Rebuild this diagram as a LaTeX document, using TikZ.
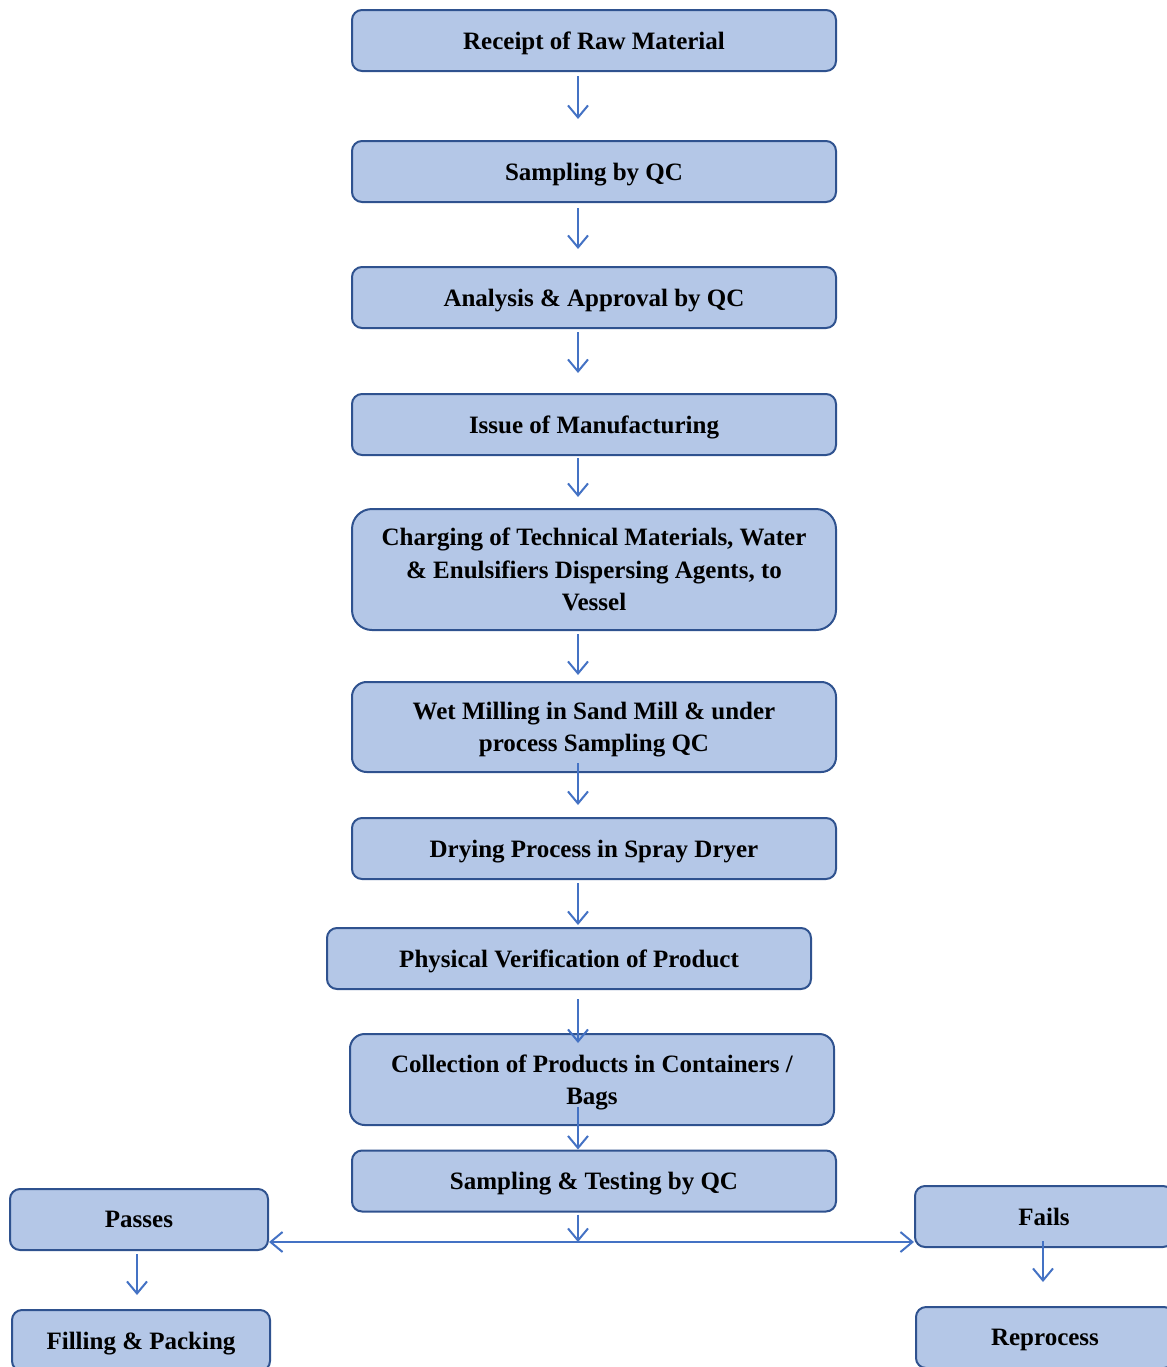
\documentclass[tikz,border=0pt]{standalone}
\usepackage{fontspec}
\setmainfont{Liberation Serif}
\usetikzlibrary{arrows.meta,calc}
\definecolor{boxfill}{HTML}{B4C7E7}
\definecolor{boxline}{HTML}{2F528F}
\definecolor{flowline}{HTML}{4472C4}

\begin{document}
\begin{tikzpicture}[x=0.75pt,y=-0.75pt,
  stepbox/.style={draw=boxline, fill=boxfill, line width=1.5pt, rounded corners=7.5pt,
    minimum width=363pt, minimum height=45.75pt, inner sep=0pt, align=center,
    text depth=0pt, font=\fontsize{18.75}{24.4}\selectfont\bfseries},
  resultbox/.style={stepbox, minimum width=193.5pt},
  flow/.style={draw=flowline, line width=1.5pt, -{Straight Barb[length=9pt,width=15pt]}}]
\useasboundingbox (0,0) rectangle (1167,1367);
% main line of steps
\node[stepbox] (receipt) at (594,40.5) {Receipt of Raw Material};
\node[stepbox] (sampling) at (594,171.5) {Sampling by QC};
\node[stepbox] (analysis) at (594,297.5) {Analysis \& Approval by QC};
\node[stepbox] (issue) at (594,424.5) {Issue of Manufacturing};
\node[stepbox, minimum height=90.75pt, rounded corners=15pt] (charging) at (594,569.5)
  {Charging of Technical Materials, Water\\\& Enulsifiers Dispersing Agents, to\\Vessel};
\node[stepbox, minimum height=67.5pt, rounded corners=11pt] (milling) at (594,727)
  {Wet Milling in Sand Mill \& under\\process Sampling QC};
\node[stepbox] (drying) at (594,848.5) {Drying Process in Spray Dryer};
\node[stepbox] (physical) at (569,958.5) {Physical Verification of Product};
\node[stepbox, minimum height=68.25pt, rounded corners=11pt] (collection) at (592,1079.5)
  {Collection of Products in Containers /\\Bags};
\node[stepbox] (testing) at (594,1181) {Sampling \& Testing by QC};
% results
\node[resultbox] (passes) at (139,1219.5) {Passes};
\node[resultbox] (filling) at (141,1340.5) {Filling \& Packing};
\node[resultbox] (fails) at (1044,1216.5) {Fails};
\node[resultbox] (reprocess) at (1045,1337.5) {Reprocess};
\coordinate (spine) at (578,0);
\coordinate (split) at (578,1242);
% arrows
\draw[flow] ($(receipt.south -| spine)+(0,4)$) -- ($(sampling.north -| spine)+(0,-21)$);
\draw[flow] ($(sampling.south -| spine)+(0,5)$) -- ($(analysis.north -| spine)+(0,-17)$);
\draw[flow] ($(analysis.south -| spine)+(0,3)$) -- ($(issue.north -| spine)+(0,-20)$);
\draw[flow] ($(issue.south -| spine)+(0,2)$) -- ($(charging.north -| spine)+(0,-11)$);
\draw[flow] ($(charging.south -| spine)+(0,3)$) -- ($(milling.north -| spine)+(0,-6)$);
\draw[flow] ($(milling.south -| spine)+(0,-10)$) -- ($(drying.north -| spine)+(0,-12)$);
\draw[flow] ($(drying.south -| spine)+(0,3)$) -- ($(physical.north -| spine)+(0,-2)$);
\draw[flow] ($(physical.south -| spine)+(0,9)$) -- ($(collection.north -| spine)+(0,10)$);
\draw[flow] ($(collection.south -| spine)+(0,-19)$) -- (testing.north -| spine);
\draw[flow] ($(testing.south -| spine)+(0,2)$) -- (split);
\draw[flow, {Straight Barb[length=9pt,width=15pt]}-{Straight Barb[length=9pt,width=15pt]}]
  (split -| passes.east) -- (split -| fails.west);
\draw[flow] ($(passes.south)+(-2,3)$) -- ($(filling.north)+(-4,-14)$);
\draw[flow] ($(fails.south)+(-1,-7)$) -- ($(reprocess.north)+(-2,-24)$);
\end{tikzpicture}
\end{document}
